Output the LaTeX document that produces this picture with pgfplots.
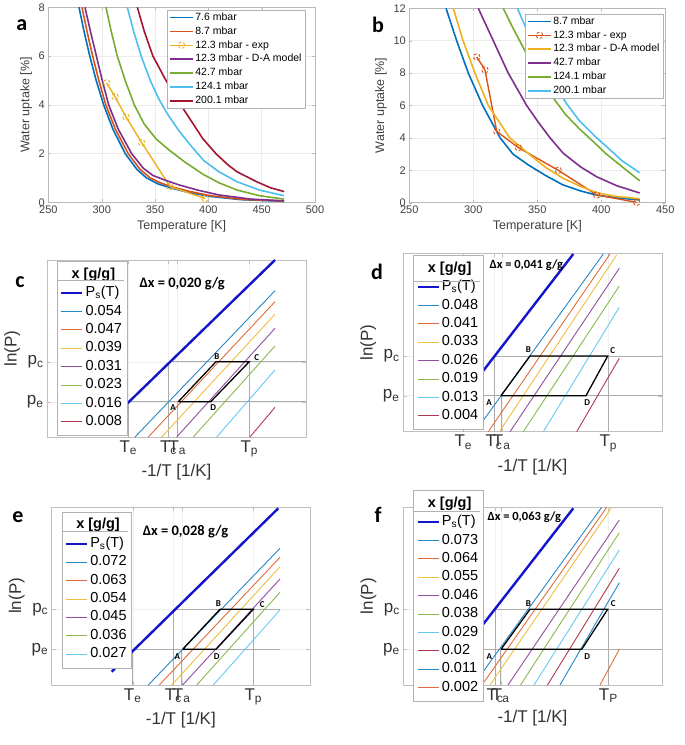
\documentclass[border=0pt]{standalone}
\usepackage{pgfplots}
\pgfplotsset{compat=1.18}
\usepackage{fontspec}
\setmainfont{Liberation Sans}
\newfontfamily\calib{Carlito}
\definecolor{mB}{rgb}{0,0.447,0.741}
\definecolor{mO}{rgb}{0.85,0.325,0.098}
\definecolor{mY}{rgb}{0.929,0.694,0.125}
\definecolor{mP}{rgb}{0.494,0.184,0.556}
\definecolor{mG}{rgb}{0.466,0.674,0.188}
\definecolor{mC}{rgb}{0.301,0.745,0.933}
\definecolor{mR}{rgb}{0.635,0.078,0.184}
\definecolor{psb}{rgb}{0.08,0.08,0.8}
\pgfplotsset{
  topax/.style={scale only axis, axis line style={gray!55}, tick style={gray!55},
    grid=major, major grid style={gray!15,line width=0.4pt},
    tick label style={font=\fontsize{11}{13}\selectfont, text=black!75},
    label style={font=\fontsize{12.5}{15}\selectfont, text=black!75},
    /pgf/number format/assume math mode=true, tick align=inside, major tick length=3pt,
    legend cell align=left,
    legend image code/.code={\draw[##1] (0pt,0pt) -- (23pt,0pt);
      \path[##1] plot[mark repeat=2,mark phase=2] coordinates {(0pt,0pt) (11.5pt,0pt) (23pt,0pt)};},
    legend style={anchor=north west, draw=gray!60, fill=white, font=\fontsize{10.5}{12}\selectfont,
      row sep=3.4pt, inner xsep=2pt, inner ysep=2pt,
      nodes={inner ysep=0pt, inner xsep=1.5pt, text height=8pt, text depth=2.5pt}}},
  cv/.style={line width=1.6pt, draw=#1, color=#1},
  ex/.style={line width=1.4pt, draw=#1, color=#1, mark=o, mark size=3.2pt, mark options={densely dashed, line width=0.9pt}},
  lowax/.style={scale only axis, y dir=reverse, axis line style={gray!50}, tick style={gray!50},
    grid=major, major grid style={gray!12,line width=0.4pt},
    tick label style={font=\fontsize{17}{20}\selectfont, text=black!80},
    label style={font=\fontsize{17}{20}\selectfont, text=black!80},
    tick align=inside, major tick length=4pt,
    xlabel={-1/T [1/K]}, ylabel={ln(P)},
    legend cell align=left,
    legend image code/.code={\draw[##1] (0pt,0pt) -- (21pt,0pt);},
    legend style={anchor=north west, draw=gray!60, fill=white, font=\fontsize{14.5}{17}\selectfont,
      row sep=3.4pt, inner xsep=3pt, inner ysep=6pt,
      nodes={inner ysep=0pt, inner xsep=2pt, text height=11pt, text depth=4pt}}},
  iso/.style={line width=0.9pt, draw=#1!85!white, color=#1!85!white},
  ps/.style={line width=2.4pt, draw=psb, color=psb},
  gl/.style={gray!65, line width=0.6pt, forget plot},
  cyc/.style={black, line width=1.3pt, forget plot},
}
\newcommand{\dx}[1]{\calib\bfseries\fontsize{#1}{#1}\selectfont}
\newcommand{\lab}{\calib\bfseries\fontsize{9}{9}\selectfont}
\begin{document}
\begin{tikzpicture}
\path[use as bounding box] (0pt,0pt) rectangle (685pt,745pt);
% ---------------- a ----------------
\begin{axis}[topax, at={(48.4pt,542.7pt)}, anchor=south west, width=266.6pt, height=195pt,
  xmin=250, xmax=500, ymin=0, ymax=8, xtick={250,300,...,500}, ytick={0,2,...,8},
  xlabel={Temperature [K]}, ylabel={Water uptake [\%]},
  legend style={at={(0.445,0.986)}}]
\addplot[cv=mB] coordinates {(278.7,8) (283.5,7) (288.8,6) (294.8,5) (301.8,4) (310.5,3) (322,2) (333,1.35) (342,1.0) (353,0.75) (364,0.6) (380,0.42) (400,0.25) (430,0.11) (471,0.04)};
\addlegendentry{7.6 mbar}
\addplot[cv=mO] coordinates {(281.5,8) (286.3,7) (291.5,6) (297.3,5) (303.8,4) (312.8,3) (324.8,2) (336,1.35) (345.5,1.0) (356,0.78) (365.5,0.64) (382,0.45) (402,0.27) (432,0.12) (471,0.05)};
\addlegendentry{8.7 mbar}
\addplot[ex=mY] coordinates {(304.7,4.9) (312.5,4.33) (322.8,3.5) (337.5,2.45) (364,0.65) (397,0.15)};
\addlegendentry{12.3 mbar - exp}
\addplot[cv=mP] coordinates {(284.3,8) (289.5,7) (295,6) (300.5,5) (306.5,4) (315.5,3) (328,2) (339,1.4) (348,1.1) (360,0.9) (372,0.72) (390,0.5) (410,0.3) (440,0.13) (471,0.06)};
\addlegendentry{12.3 mbar - D-A model}
\addplot[cv=mG] coordinates {(304,8) (309,7) (314.6,6) (322,5) (330.5,4) (340,3.2) (351,2.6) (363,2.15) (378,1.65) (395,1.15) (410,0.8) (427,0.5) (448,0.27) (471,0.13)};
\addlegendentry{42.7 mbar}
\addplot[cv=mC] coordinates {(324,8) (330,7) (337,6) (345.5,5) (354,4.2) (362,3.6) (373,2.9) (385,2.25) (396,1.7) (410,1.25) (427,0.84) (448,0.5) (471,0.27)};
\addlegendentry{124.1 mbar}
\addplot[cv=mR] coordinates {(333.4,8) (340,7) (348,6) (359,5.1) (371,4.2) (383,3.4) (395,2.6) (407,2.0) (418,1.55) (427,1.25) (445,0.85) (458,0.6) (471,0.44)};
\addlegendentry{200.1 mbar}
\end{axis}
% ---------------- b ----------------
\begin{axis}[topax, at={(409.3pt,542.3pt)}, anchor=south west, width=256pt, height=194.4pt,
  xmin=250, xmax=450, ymin=0, ymax=12, xtick={250,300,...,450}, ytick={0,2,...,12},
  xlabel={Temperature [K]}, ylabel={Water uptake [\%]},
  legend style={at={(0.452,0.971)}}]
\addplot[cv=mB] coordinates {(278.7,12) (287,10) (296.1,8) (307.3,6) (321,4) (331,3) (343,2.33) (356,1.7) (370,1.1) (384,0.72) (396.4,0.47) (412,0.3) (430,0.17)};
\addlegendentry{8.7 mbar}
\addplot[ex=mO] coordinates {(302.7,9.0) (309.1,8.2) (318.3,4.4) (335.2,3.4) (366.4,2.0) (396.4,0.48) (427.7,0.02)};
\addlegendentry{12.3 mbar - exp}
\addplot[cv=mY] coordinates {(284.4,12) (292,10) (301.3,8) (311.7,6) (328.5,4) (344.3,2.95) (357,2.15) (370.3,1.5) (384,1.0) (396.4,0.62) (412,0.38) (430,0.25)};
\addlegendentry{12.3 mbar - D-A model}
\addplot[cv=mP] coordinates {(303.9,12) (315.6,10) (327.3,8) (341.7,6) (350.5,5) (360,4) (370.3,3.05) (384,2.2) (396.4,1.6) (412,1.05) (430,0.6)};
\addlegendentry{42.7 mbar}
\addplot[cv=mG] coordinates {(323.4,12) (331.5,10.7) (339.5,9.5) (348,8.3) (356,7.25) (364,6.3) (372,5.45) (383,4.55) (394,3.75) (404,3.0) (415,2.3) (430,1.35)};
\addlegendentry{124.1 mbar}
\addplot[cv=mC] coordinates {(334.5,12) (341,10.8) (348.5,9.6) (356.5,8.3) (365,7.1) (373,6.1) (382.5,5.1) (395,4.1) (405,3.4) (416,2.6) (430,1.85)};
\addlegendentry{200.1 mbar}
\end{axis}
% ---------------- c ----------------
\begin{axis}[lowax, at={(47pt,308pt)}, anchor=south west, width=259pt, height=177pt,
  xmin=47, xmax=306, ymin=260, ymax=437,
  xtick={128.3,168.5,177.3,249.3}, xticklabels={T\textsubscript{e},T\textsubscript{c},T\textsubscript{a},T\textsubscript{p}},
  ytick={361.7,401.7}, yticklabels={p\textsubscript{c},p\textsubscript{e}},
  legend style={at={(axis cs:57,261)}}]
\addlegendimage{empty legend}\addlegendentry{\hspace*{-14pt}\textbf{x [g/g]}}
\addplot[gl] coordinates {(128.3,401.7) (128.3,437)};
\addplot[gl] coordinates {(128.3,401.7) (306,401.7)};
\addplot[gl] coordinates {(168.5,361.7) (168.5,437)};
\addplot[gl] coordinates {(168.5,361.7) (306,361.7)};
\addplot[gl] coordinates {(177.3,401.7) (177.3,437)};
\addplot[gl] coordinates {(249.3,361.7) (249.3,437)};
\addplot[ps] coordinates {(125,405.7) (275,260)}; \addlegendentry{P\textsubscript{s}(T)}
\addplot[iso=mB] coordinates {(135,437) (275,290.7)}; \addlegendentry{0.054}
\addplot[iso=mO] coordinates {(148.3,437) (275,301.7)}; \addlegendentry{0.047}
\addplot[iso=mY] coordinates {(161.7,437) (275,314.3)}; \addlegendentry{0.039}
\addplot[iso=mP] coordinates {(176.7,437) (275,328.3)}; \addlegendentry{0.031}
\addplot[iso=mG] coordinates {(193.3,437) (275,346)}; \addlegendentry{0.023}
\addplot[iso=mC] coordinates {(216.7,437) (275,370)}; \addlegendentry{0.016}
\addplot[iso=mR] coordinates {(250,437) (275,407.3)}; \addlegendentry{0.008}
\addplot[cyc] coordinates {(178.3,401.7) (216,361.7) (249.3,361.7) (210.7,401.7) (178.3,401.7)};
\node[anchor=west, font=\dx{14.5}] at (axis cs:136,283.3) {Δx = 0,020 g/g};
\node[font=\lab] at (axis cs:173,408) {A};
\node[font=\lab] at (axis cs:217,356.7) {B};
\node[font=\lab] at (axis cs:256.7,358) {C};
\node[font=\lab] at (axis cs:213.3,408) {D};
\end{axis}
% ---------------- d ----------------
\begin{axis}[lowax, at={(403pt,313.3pt)}, anchor=south west, width=259pt, height=178.4pt,
  xmin=403, xmax=662, ymin=253.3, ymax=431.7,
  xtick={463.3,494,501.7,608.3}, xticklabels={T\textsubscript{e},T\textsubscript{c},T\textsubscript{a},T\textsubscript{p}},
  ytick={356,395.7}, yticklabels={p\textsubscript{c},p\textsubscript{e}},
  legend style={at={(axis cs:413.3,255)}}]
\addlegendimage{empty legend}\addlegendentry{\hspace*{-14pt}\textbf{x [g/g]}}
\addplot[gl] coordinates {(463.3,395.7) (463.3,431.7)};
\addplot[gl] coordinates {(463.3,395.7) (662,395.7)};
\addplot[gl] coordinates {(494,356) (494,431.7)};
\addplot[gl] coordinates {(494,356) (662,356)};
\addplot[gl] coordinates {(501.7,395.7) (501.7,431.7)};
\addplot[gl] coordinates {(608.3,356) (608.3,431.7)};
\addplot[ps] coordinates {(480,375) (573.3,254)}; \addlegendentry{P\textsubscript{s}(T)}
\addplot[iso=mB] coordinates {(480,425) (603.3,254)}; \addlegendentry{0.048}
\addplot[iso=mO] coordinates {(488.3,431.7) (610,254)}; \addlegendentry{0.041}
\addplot[iso=mY] coordinates {(499.3,431.7) (616.7,255)}; \addlegendentry{0.033}
\addplot[iso=mP] coordinates {(510,431.7) (619.3,268.3)}; \addlegendentry{0.026}
\addplot[iso=mG] coordinates {(523.3,431.7) (619.3,286)}; \addlegendentry{0.019}
\addplot[iso=mC] coordinates {(543.3,431.7) (619.3,307.3)}; \addlegendentry{0.013}
\addplot[iso=mR] coordinates {(576.7,431.7) (619.3,358.3)}; \addlegendentry{0.004}
\addplot[cyc] coordinates {(501,395.7) (530,356) (607.7,356) (586,395.7) (501,395.7)};
\node[anchor=west, font=\dx{12.5}] at (axis cs:486,265) {Δx = 0,041 g/g};
\node[font=\lab] at (axis cs:489,402.7) {A};
\node[font=\lab] at (axis cs:528.3,350) {B};
\node[font=\lab] at (axis cs:612.7,351) {C};
\node[font=\lab] at (axis cs:587.3,402.7) {D};
\end{axis}
% ---------------- e ----------------
\begin{axis}[lowax, at={(51.7pt,60pt)}, anchor=south west, width=258.3pt, height=178.3pt,
  xmin=51.7, xmax=310, ymin=506.7, ymax=685,
  xtick={132.7,173.3,181.7,253.3}, xticklabels={T\textsubscript{e},T\textsubscript{c},T\textsubscript{a},T\textsubscript{p}},
  ytick={609.3,649.3}, yticklabels={p\textsubscript{c},p\textsubscript{e}},
  legend style={at={(axis cs:61.7,511.7)}}]
\addlegendimage{empty legend}\addlegendentry{\hspace*{-14pt}\textbf{x [g/g]}}
\addplot[gl] coordinates {(132.7,649.3) (132.7,685)};
\addplot[gl] coordinates {(132.7,649.3) (280,649.3)};
\addplot[gl] coordinates {(173.3,609.3) (173.3,685)};
\addplot[gl] coordinates {(173.3,609.3) (280,609.3)};
\addplot[gl] coordinates {(181.7,649.3) (181.7,685)};
\addplot[gl] coordinates {(253.3,609.3) (253.3,685)};
\addplot[ps] coordinates {(111.7,671.7) (278.3,508.3)}; \addlegendentry{P\textsubscript{s}(T)}
\addplot[iso=mB] coordinates {(148.3,685) (280,548.3)}; \addlegendentry{0.072}
\addplot[iso=mO] coordinates {(159.3,685) (280,557.3)}; \addlegendentry{0.063}
\addplot[iso=mY] coordinates {(171.7,685) (280,566.7)}; \addlegendentry{0.054}
\addplot[iso=mP] coordinates {(182.7,685) (280,579)}; \addlegendentry{0.045}
\addplot[iso=mG] coordinates {(196.7,685) (280,592.3)}; \addlegendentry{0.036}
\addplot[iso=mC] coordinates {(213.3,685) (280,610)}; \addlegendentry{0.027}
\addplot[cyc] coordinates {(182.7,649.3) (220,609.3) (253.3,609.3) (216,649.3) (182.7,649.3)};
\node[anchor=west, font=\dx{14.5}] at (axis cs:139.3,531.7) {Δx = 0,028 g/g};
\node[font=\lab] at (axis cs:177.3,656.7) {A};
\node[font=\lab] at (axis cs:218.3,604) {B};
\node[font=\lab] at (axis cs:262.3,604.7) {C};
\node[font=\lab] at (axis cs:216.7,656.7) {D};
\end{axis}
% ---------------- f ----------------
\begin{axis}[lowax, at={(403.3pt,60pt)}, anchor=south west, width=258.4pt, height=177.7pt,
  xmin=403.3, xmax=661.7, ymin=507.3, ymax=685,
  xtick={466,495,500.7,608.3}, xticklabels={T\textsubscript{e},T\textsubscript{c},T\textsubscript{a},T\textsubscript{P}},
  ytick={609.3,649.3}, yticklabels={p\textsubscript{c},p\textsubscript{e}},
  legend style={at={(axis cs:413.3,490)}}]
\addlegendimage{empty legend}\addlegendentry{\hspace*{-14pt}\textbf{x [g/g]}}
\addplot[gl] coordinates {(466,649.3) (466,685)};
\addplot[gl] coordinates {(466,649.3) (661.7,649.3)};
\addplot[gl] coordinates {(495,609.3) (495,685)};
\addplot[gl] coordinates {(495,609.3) (661.7,609.3)};
\addplot[gl] coordinates {(500.7,649.3) (500.7,685)};
\addplot[gl] coordinates {(608.3,609.3) (608.3,685)};
\addplot[ps] coordinates {(480,628.3) (573.3,508.3)}; \addlegendentry{P\textsubscript{s}(T)}
\addplot[iso=mB] coordinates {(480,676) (601.7,507.3)}; \addlegendentry{0.073}
\addplot[iso=mO] coordinates {(482,685) (606.7,507.3)}; \addlegendentry{0.064}
\addplot[iso=mY] coordinates {(490,685) (611.7,507.3)}; \addlegendentry{0.055}
\addplot[iso=mP] coordinates {(508,685) (619.3,520)}; \addlegendentry{0.046}
\addplot[iso=mG] coordinates {(520.5,685) (619.3,532.7)}; \addlegendentry{0.038}
\addplot[iso=mC] coordinates {(534,685) (619.3,550)}; \addlegendentry{0.029}
\addplot[iso=mR] coordinates {(547.5,685) (619.3,568.3)}; \addlegendentry{0.02}
\addplot[iso=mB] coordinates {(560,685) (619.3,582.7)}; \addlegendentry{0.011}
\addplot[iso=mO] coordinates {(600,685) (619.3,649.3)}; \addlegendentry{0.002}
\addplot[cyc] coordinates {(501,649.3) (530,609.3) (607.7,609.3) (581.7,649.3) (501,649.3)};
\node[anchor=west, font=\dx{12.5}] at (axis cs:484,516.7) {Δx = 0,063 g/g};
\node[font=\lab] at (axis cs:489.3,656.7) {A};
\node[font=\lab] at (axis cs:528.3,603.3) {B};
\node[font=\lab] at (axis cs:613.3,603.3) {C};
\node[font=\lab] at (axis cs:587.3,656.7) {D};
\end{axis}
% legend title separators
\draw[gray!60, line width=0.6pt] (57pt,464.3pt) -- (124pt,464.3pt);
\draw[gray!60, line width=0.6pt] (413.3pt,464pt) -- (480pt,464pt);
\draw[gray!60, line width=0.6pt] (61.7pt,213.3pt) -- (128.3pt,213.3pt);
\draw[gray!60, line width=0.6pt] (413.3pt,233.3pt) -- (480pt,233.3pt);
% panel letters
\node[font=\dx{22}] at (21.7pt,720pt) {a};
\node[font=\dx{22}] at (378pt,720pt) {b};
\node[font=\dx{22}] at (20pt,463pt) {c};
\node[font=\dx{22}] at (377pt,473pt) {d};
\node[font=\dx{22}] at (18pt,228pt) {e};
\node[font=\dx{22}] at (378pt,230pt) {f};
\end{tikzpicture}
\end{document}
